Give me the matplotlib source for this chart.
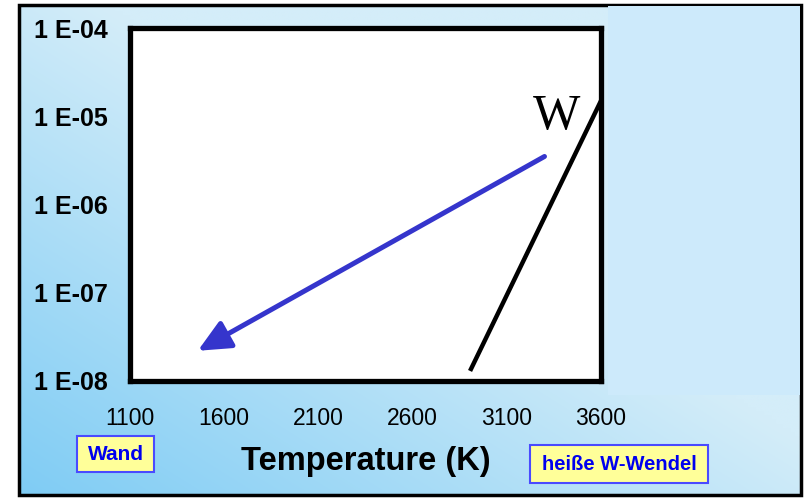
import numpy as np
import matplotlib
matplotlib.use("Agg")
import matplotlib.pyplot as plt
import matplotlib.patches as patches
from matplotlib.colors import to_rgb

# axis setup
temp_ticks = [1100, 1600, 2100, 2600, 3100, 3600]
pressure_ticks = [1e-8, 1e-7, 1e-6, 1e-5, 1e-4]
pressure_labels = ["1 E-08", "1 E-07", "1 E-06", "1 E-05", "1 E-04"]

# vapour pressure of tungsten (black line)
w_temp = [2905, 3600]
w_pressure = [1.3e-8, 1.5e-5]

# arrow: from hot filament down to the wall
arrow_start = (3300, 3.5e-6)
arrow_end = (1460, 2.2e-8)

W, H = 808, 499
fig = plt.figure(figsize=(W / 100, H / 100), dpi=100)
fig.patch.set_facecolor("white")

# background panel in pixel coordinates
bg = fig.add_axes([0, 0, 1, 1], zorder=0)
bg.set_xlim(0, W)
bg.set_ylim(H, 0)
bg.axis("off")

dark = np.array(to_rgb("#7fccf4"))
light = np.array(to_rgb("#d4edf9"))
xx, yy = np.meshgrid(np.linspace(0, 1, 200), np.linspace(0, 1, 120))
t = np.clip((xx + (1 - yy)) * 0.9, 0, 1)  # yy=0 at top row
img = dark[None, None, :] * (1 - t[..., None]) + light[None, None, :] * t[..., None]
bg.imshow(img, extent=(19, 801, 495, 5), aspect="auto", interpolation="bilinear")
bg.add_patch(patches.Rectangle((19, 5), 782, 490, fill=False, ec="black", lw=2.5))
bg.add_patch(patches.Rectangle((608, 6), 192, 389, fc="#cdeafb", ec="none"))

# labels in yellow boxes
bg.add_patch(patches.Rectangle((77, 436), 77, 36, fc="#ffff99", ec="#4a4aff", lw=1.5))
bg.text(115.5, 454, "Wand", ha="center", va="center", color="#0000ee",
        fontsize=15, fontweight="bold", family=["Liberation Sans"])
bg.add_patch(patches.Rectangle((530, 445), 178, 38, fc="#ffff99", ec="#4a4aff", lw=1.5))
bg.text(619, 464.5, "heiße W-Wendel", ha="center", va="center", color="#0000ee",
        fontsize=14.5, fontweight="bold", family=["Liberation Sans"])

# main plot
ax = fig.add_axes([130 / W, 1 - 381 / H, 471 / W, 353 / H], zorder=1)
ax.set_facecolor("white")
ax.set_yscale("log")
ax.set_xlim(1100, 3600)
ax.set_ylim(1e-8, 1e-4)

ax.plot(w_temp, w_pressure, color="black", lw=3.2, solid_capstyle="butt", clip_on=False)
ax.annotate("", xy=arrow_end, xytext=arrow_start,
            arrowprops=dict(arrowstyle="-|>,head_length=1.4,head_width=0.65",
                            color="#3535cc", lw=3.6, shrinkA=0, shrinkB=0,
                            mutation_scale=14))
ax.text(3366, 1.0e-5, "W", ha="center", va="center", fontsize=36,
        family=["Liberation Serif"])

ax.set_xticks(temp_ticks)
ax.set_xticklabels([str(v) for v in temp_ticks])
ax.set_yticks(pressure_ticks)
ax.set_yticklabels(pressure_labels)
ax.yaxis.set_minor_locator(matplotlib.ticker.NullLocator())
ax.tick_params(axis="both", length=0)
ax.tick_params(axis="x", pad=19)
ax.tick_params(axis="y", pad=16)
for lab in ax.get_xticklabels():
    lab.set_fontsize(16.5)
    lab.set_family(["Liberation Sans"])
for lab in ax.get_yticklabels():
    lab.set_fontsize(18)
    lab.set_fontweight("bold")
    lab.set_family(["Liberation Sans"])

ax.set_xlabel("Temperature (K)", fontsize=23.5, fontweight="bold",
              family=["Liberation Sans"], labelpad=11)

for sp in ax.spines.values():
    sp.set_linewidth(3.8)
    sp.set_color("black")

fig.savefig("out.png", dpi=100)
